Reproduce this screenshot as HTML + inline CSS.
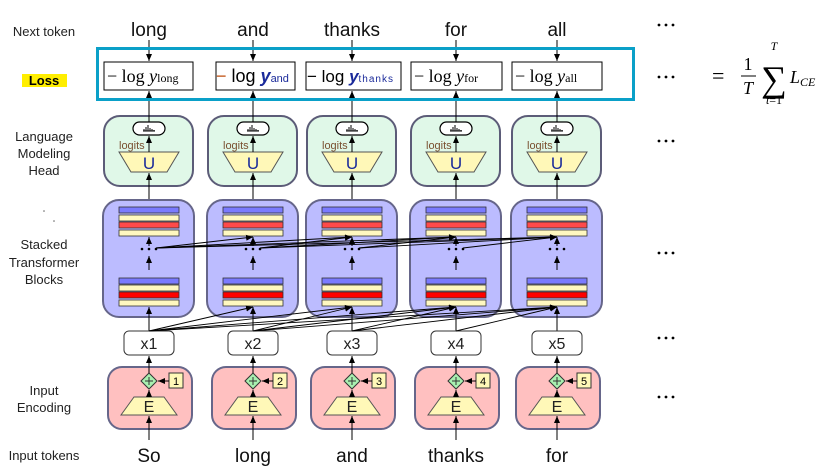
<!DOCTYPE html>
<html><head><meta charset="utf-8"><style>
body{margin:0;background:#fff;}
svg{display:block;font-family:"Liberation Sans",sans-serif;}
</style></head><body>
<svg width="834" height="466" viewBox="0 0 834 466" xmlns="http://www.w3.org/2000/svg">
<defs>
<marker id="a" markerWidth="8" markerHeight="8" refX="7" refY="4" orient="auto" markerUnits="userSpaceOnUse"><path d="M0,1 L7,4 L0,7 Z" fill="#000"/></marker>
<g id="head">
<rect x="-45" y="116" width="89" height="70" rx="16" fill="#e0f8e8" stroke="#5c5c78" stroke-width="2"/>
<rect x="-16" y="122" width="32" height="13" rx="6.5" fill="#fff" stroke="#000" stroke-width="1.2"/>
<path d="M-6,131 h12 M-5,131 v-2 M-3,131 v-4 M-1,131 v-6 M1,131 v-3 M3,131 v-2 M5,131 v-1" stroke="#000" stroke-width="1"/>
<polygon points="-30,152 30,152 18,172 -18,172" fill="#fff8b8" stroke="#555" stroke-width="1"/>
<line x1="0" y1="152" x2="0" y2="136" stroke="#000" marker-end="url(#a)"/>
<line x1="0" y1="200" x2="0" y2="173" stroke="#000" marker-end="url(#a)"/>
<line x1="0" y1="122" x2="0" y2="91" stroke="#000" marker-end="url(#a)"/>
<line x1="0" y1="40" x2="0" y2="61" stroke="#000" marker-end="url(#a)"/>
</g>
<g id="tf">
<rect x="-46" y="200" width="91" height="117" rx="16" fill="#bcbcff" stroke="#66668a" stroke-width="2"/>
<g stroke="#333" stroke-width="0.8">
<rect x="-30" y="207" width="60" height="6" fill="#7a7aff"/>
<rect x="-30" y="215" width="60" height="6" fill="#fff8c0"/>
<rect x="-30" y="222" width="60" height="6" fill="#ff4a4a"/>
<rect x="-30" y="230" width="60" height="6" fill="#fff8c0"/>
<rect x="-30" y="278" width="60" height="6" fill="#7a7aff"/>
<rect x="-30" y="285" width="60" height="6" fill="#fff8c0"/>
<rect x="-30" y="292" width="60" height="6" fill="#ff0000"/>
<rect x="-30" y="300" width="60" height="6" fill="#fff8c0"/>
</g>
<circle cx="-7" cy="249" r="1.3" fill="#000"/><circle cx="0" cy="249" r="1.3" fill="#000"/><circle cx="7" cy="249" r="1.3" fill="#000"/>
<line x1="0" y1="270" x2="0" y2="256" stroke="#000" marker-end="url(#a)"/>
<line x1="0" y1="246" x2="0" y2="237" stroke="#000" marker-end="url(#a)"/>
<line x1="0" y1="331" x2="0" y2="307" stroke="#000" marker-end="url(#a)"/>
</g>
<g id="enc">
<rect x="-25" y="331" width="50" height="24" rx="5" fill="#fff" stroke="#333" stroke-width="1"/>
<rect x="-41" y="367" width="84" height="62" rx="14" fill="#ffc0c0" stroke="#66668a" stroke-width="2"/>
<polygon points="-15,397 15,397 28,415 -28,415" fill="#fff8b8" stroke="#555"/>
<polygon points="0,373 8,381 0,389 -8,381" fill="#a8f0b0" stroke="#333"/>
<path d="M-4,381 h8 M0,377 v8" stroke="#333" stroke-width="1"/>
<rect x="20" y="373" width="14" height="15" fill="#fff8b8" stroke="#333"/>
<line x1="20" y1="381" x2="9" y2="381" stroke="#000" marker-end="url(#a)"/>
<line x1="0" y1="397" x2="0" y2="390" stroke="#000" marker-end="url(#a)"/>
<line x1="0" y1="373" x2="0" y2="356" stroke="#000" marker-end="url(#a)"/>
<line x1="0" y1="440" x2="0" y2="416" stroke="#000" marker-end="url(#a)"/>
</g>
</defs>

<g font-size="13" fill="#222" text-anchor="middle">
<text x="44" y="36">Next token</text>
<rect x="22" y="74" width="45" height="13" fill="#ffee00"/>
<text x="44" y="85" font-weight="bold" fill="#000">Loss</text>
<text x="44" y="141">Language</text>
<text x="44" y="158">Modeling</text>
<text x="44" y="175">Head</text>
<text x="44" y="249">Stacked</text>
<text x="44" y="267">Transformer</text>
<text x="44" y="284">Blocks</text>
<text x="44" y="395">Input</text>
<text x="44" y="412">Encoding</text>
<text x="44" y="460">Input tokens</text>
</g>
<circle cx="44" cy="211" r="0.8" fill="#666"/><circle cx="54" cy="221" r="0.8" fill="#666"/>

<use href="#head" x="149"/><use href="#head" x="253"/><use href="#head" x="352"/><use href="#head" x="456"/><use href="#head" x="557"/>
<use href="#tf" x="149"/><use href="#tf" x="253"/><use href="#tf" x="352"/><use href="#tf" x="456"/><use href="#tf" x="557"/>
<use href="#enc" x="149"/><use href="#enc" x="253"/><use href="#enc" x="352"/><use href="#enc" x="456"/><use href="#enc" x="557"/>

<g stroke="#000" stroke-width="0.9" fill="none" marker-end="url(#a)">
<line x1="149" y1="331" x2="253" y2="307"/><line x1="149" y1="331" x2="352" y2="307"/><line x1="149" y1="331" x2="456" y2="307"/><line x1="149" y1="331" x2="557" y2="307"/>
<line x1="253" y1="331" x2="352" y2="307"/><line x1="253" y1="331" x2="456" y2="307"/><line x1="253" y1="331" x2="557" y2="307"/>
<line x1="352" y1="331" x2="456" y2="307"/><line x1="352" y1="331" x2="557" y2="307"/>
<line x1="456" y1="331" x2="557" y2="307"/>
<line x1="156" y1="248" x2="253" y2="237"/><line x1="156" y1="248" x2="352" y2="237"/><line x1="156" y1="248" x2="456" y2="237"/><line x1="156" y1="248" x2="557" y2="237"/>
<line x1="260" y1="248" x2="352" y2="237"/><line x1="260" y1="248" x2="456" y2="237"/><line x1="260" y1="248" x2="557" y2="237"/>
<line x1="359" y1="248" x2="456" y2="237"/><line x1="359" y1="248" x2="557" y2="237"/>
<line x1="463" y1="248" x2="557" y2="237"/>
</g>

<g font-size="11" fill="#7a5030">
<text x="119" y="149">logits</text><text x="223" y="149">logits</text><text x="322" y="149">logits</text><text x="426" y="149">logits</text><text x="527" y="149">logits</text>
</g>
<g font-size="17" text-anchor="middle" fill="#1a2a9a">
<text x="149" y="169">U</text><text x="253" y="169">U</text><text x="352" y="169">U</text><text x="456" y="169">U</text><text x="557" y="169">U</text>
</g>
<g font-size="16" text-anchor="middle" fill="#222">
<text x="149" y="349">x1</text><text x="253" y="349">x2</text><text x="352" y="349">x3</text><text x="456" y="349">x4</text><text x="557" y="349">x5</text>
<text x="149" y="412">E</text><text x="253" y="412">E</text><text x="352" y="412">E</text><text x="456" y="412">E</text><text x="557" y="412">E</text>
</g>
<g font-size="11" text-anchor="middle" fill="#000">
<text x="176" y="385">1</text><text x="280" y="385">2</text><text x="379" y="385">3</text><text x="483" y="385">4</text><text x="584" y="385">5</text>
</g>
<g font-size="19" text-anchor="middle" fill="#111">
<text x="149" y="36">long</text><text x="253" y="36">and</text><text x="352" y="36">thanks</text><text x="456" y="36">for</text><text x="557" y="36">all</text>
<text x="149" y="462">So</text><text x="253" y="462">long</text><text x="352" y="462">and</text><text x="456" y="462">thanks</text><text x="557" y="462">for</text>
</g>

<rect x="97.5" y="48.5" width="536" height="51" fill="none" stroke="#0aa0c8" stroke-width="3"/>
<g fill="#fff" stroke="#000" stroke-width="1">
<rect x="104" y="62" width="89" height="28"/><rect x="216" y="62" width="79" height="28"/><rect x="306" y="62" width="95" height="28"/><rect x="411" y="62" width="91" height="28"/><rect x="512" y="62" width="90" height="28"/>
</g>
<g font-size="18" fill="#000" font-family="Liberation Serif,serif">
<text x="107" y="82">− log <tspan font-style="italic">y</tspan><tspan font-size="12">long</tspan></text>
<text x="414" y="82">− log <tspan font-style="italic">y</tspan><tspan font-size="12">for</tspan></text>
<text x="515" y="82">− log <tspan font-style="italic">y</tspan><tspan font-size="12">all</tspan></text>
</g>
<g font-size="18" fill="#000">
<text x="216" y="82"><tspan fill="#c05010">−</tspan> log <tspan font-style="italic" font-weight="bold" fill="#1a2a9a">y</tspan><tspan font-size="11" fill="#1a2a9a">and</tspan></text>
<text x="307" y="82" font-size="17">− log <tspan font-style="italic" font-weight="bold" fill="#1a2a9a">y</tspan><tspan font-size="10" fill="#1a2a9a" letter-spacing="1">thanks</tspan></text>
</g>

<g fill="#000">
<circle cx="659" cy="25" r="1.4"/><circle cx="666" cy="25" r="1.4"/><circle cx="673" cy="25" r="1.4"/>
<circle cx="659" cy="77" r="1.4"/><circle cx="666" cy="77" r="1.4"/><circle cx="673" cy="77" r="1.4"/>
<circle cx="659" cy="141" r="1.4"/><circle cx="666" cy="141" r="1.4"/><circle cx="673" cy="141" r="1.4"/>
<circle cx="659" cy="253" r="1.4"/><circle cx="666" cy="253" r="1.4"/><circle cx="673" cy="253" r="1.4"/>
<circle cx="659" cy="338" r="1.4"/><circle cx="666" cy="338" r="1.4"/><circle cx="673" cy="338" r="1.4"/>
<circle cx="659" cy="397" r="1.4"/><circle cx="666" cy="397" r="1.4"/><circle cx="673" cy="397" r="1.4"/>
</g>

<g font-family="Liberation Serif,serif" fill="#000">
<text x="712" y="83" font-size="22">=</text>
<text x="748" y="70" font-size="18" text-anchor="middle">1</text>
<line x1="741" y1="76" x2="756" y2="76" stroke="#000" stroke-width="1"/>
<text x="748" y="94" font-size="18" font-style="italic" text-anchor="middle">T</text>
<text x="774" y="91" font-size="36" text-anchor="middle">∑</text>
<text x="774" y="50" font-size="12" font-style="italic" text-anchor="middle">T</text>
<text x="774" y="104" font-size="12" text-anchor="middle"><tspan font-style="italic">t</tspan>=1</text>
<text x="790" y="83" font-size="18" font-style="italic">L<tspan font-size="12" dy="3">CE</tspan></text>
</g>
</svg>
</body></html>
